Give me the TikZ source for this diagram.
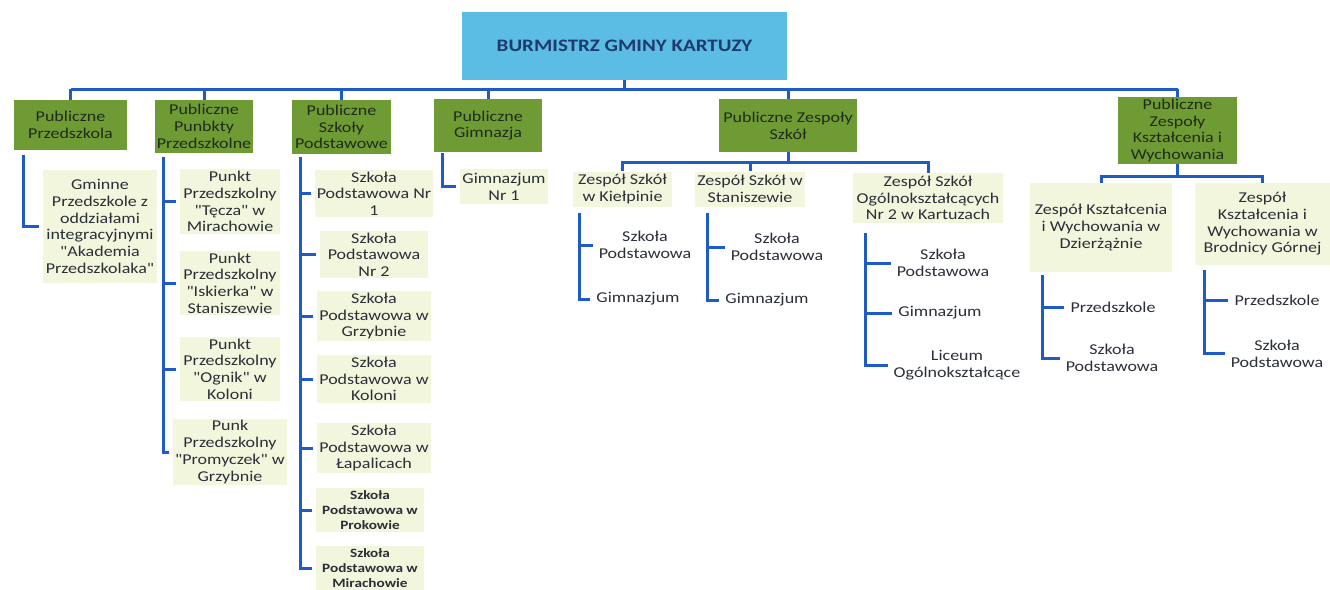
\documentclass[tikz,border=0pt]{standalone}
\usepackage{fontspec}
\newfontfamily\cf{Carlito}[FakeStretch=1.2]
\definecolor{lineblue}{HTML}{1F5BC6}
\definecolor{titleblue}{HTML}{5BBCE4}
\definecolor{titletext}{HTML}{1F3A6E}
\definecolor{headgreen}{HTML}{6F9B35}
\definecolor{headtext}{HTML}{1F2B1A}
\definecolor{itemfill}{HTML}{F2F6DD}
\definecolor{itemtext}{HTML}{2A2F38}
\begin{document}
\begin{tikzpicture}[x=1pt,y=-1pt,
  conn/.style={draw=lineblue,line width=3pt},
  tick/.style={conn,shorten >=4pt},
  titlebox/.style={fill=titleblue,text=titletext,font=\cf\fontsize{17.5}{20}\selectfont\bfseries,minimum width=325pt,minimum height=68pt},
  head/.style={fill=headgreen,text=headtext,font=\cf\fontsize{15}{16.7}\selectfont,align=center,inner sep=2pt},
  item/.style={fill=itemfill,text=itemtext,font=\cf\fontsize{15}{16.7}\selectfont,align=center,inner sep=2pt},
  itemb/.style={item,font=\cf\fontsize{12.7}{15}\selectfont\bfseries},
  sub/.style={text=itemtext,font=\cf\fontsize{15}{16.7}\selectfont,align=center,inner sep=2pt},
]
\fill[white] (0,0) rectangle (1330,589);
\useasboundingbox (0,0) rectangle (1330,589);

\node[titlebox] (top) at (624.5,46) {BURMISTRZ GMINY KARTUZY};

\node[head,minimum width=113pt,minimum height=50pt] (h1) at (70.5,125) {Publiczne\\Przedszkola};
\node[head,minimum width=96pt,minimum height=53pt] (h2) at (204,126.5) {Publiczne\\Punbkty\\Przedszkolne};
\node[head,minimum width=99pt,minimum height=54pt] (h3) at (341.5,127) {Publiczne\\Szkoły\\Podstawowe};
\node[head,minimum width=108pt,minimum height=53pt] (h4) at (488,125.5) {Publiczne\\Gimnazja};
\node[head,minimum width=138pt,minimum height=53pt] (h5) at (788,125.5) {Publiczne Zespoły\\Szkół};
\node[head,minimum width=119pt,minimum height=65pt] (h6) at (1177.5,130.5) {Publiczne\\Zespoły\\Kształcenia i\\Wychowania};

\coordinate (bus) at (0,89);
\draw[conn] (h1.north |- bus) -- (h6.north |- bus);
\draw[conn] (top.south) -- (top.south |- bus);
\foreach \n in {h1,h2,h3,h4,h5,h6} \draw[conn] (\n.north |- bus) -- (\n.north);

% column 1
\node[item,minimum width=114pt,minimum height=113pt] (a1) at (100,226.5) {Gminne\\Przedszkole z\\oddziałami\\integracyjnymi\\"Akademia\\Przedszkolaka"};
\coordinate (v1) at (23,155);
\draw[tick] (v1) |- (a1.west);

% column 2
\node[item,minimum width=100pt,minimum height=64pt] (b1) at (230,201.5) {Punkt\\Przedszkolny\\"Tęcza" w\\Mirachowie};
\node[item,minimum width=100pt,minimum height=64pt] (b2) at (230,283) {Punkt\\Przedszkolny\\"Iskierka" w\\Staniszewie};
\node[item,minimum width=100pt,minimum height=64pt] (b3) at (230,369) {Punkt\\Przedszkolny\\"Ognik" w\\Koloni};
\node[item,minimum width=100pt,minimum height=64pt] (b4) at (230,452) {Punk\\Przedszkolny\\"Promyczek" w\\Grzybnie};
\coordinate (v2) at (163,157);
\foreach \n in {b1,b2,b3,b4} \draw[tick] (v2) |- (\n.west);

% column 3
\node[item,minimum width=108pt,minimum height=44pt] (c1) at (374,193.5) {Szkoła\\Podstawowa Nr\\1};
\node[item,minimum width=108pt,minimum height=44pt] (c2) at (374,254.5) {Szkoła\\Podstawowa\\Nr 2};
\node[item,minimum width=108pt,minimum height=44pt] (c3) at (374,316) {Szkoła\\Podstawowa w\\Grzybnie};
\node[item,minimum width=108pt,minimum height=44pt] (c4) at (374,379) {Szkoła\\Podstawowa w\\Koloni};
\node[item,minimum width=108pt,minimum height=44pt] (c5) at (374,448) {Szkoła\\Podstawowa w\\Łapalicach};
\node[itemb,minimum width=108pt,minimum height=44pt] (c6) at (370,510) {Szkoła\\Podstawowa w\\Prokowie};
\node[itemb,minimum width=108pt,minimum height=44pt] (c7) at (370,568) {Szkoła\\Podstawowa w\\Mirachowie};
\coordinate (v3) at (300,157);
\foreach \n in {c1,c2,c3,c4,c5,c6,c7} \draw[tick] (v3) |- (\n.west);

% column 4
\node[item,minimum width=88pt,minimum height=35pt] (d1) at (504,186.5) {Gimnazjum\\Nr 1};
\coordinate (v4) at (442,153);
\draw[tick] (v4) |- (d1.west);

% column 5
\node[item,minimum width=99pt,minimum height=35pt] (z1) at (622.5,189) {Zespół Szkół\\w Kiełpinie};
\node[item,minimum width=108pt,minimum height=35pt] (z2) at (750,189) {Zespół Szkół w\\Staniszewie};
\node[item,minimum width=150pt,minimum height=50pt] (z3) at (928,198) {Zespół Szkół\\Ogólnokształcących\\Nr 2 w Kartuzach};
\foreach \n in {z1,z2,z3} \draw[conn] (h5.south) -- ++(0,10) -| (\n.north);

\node[sub] (k1) at (645,245) {Szkoła\\Podstawowa};
\node[sub] (k2) at (638,299) {Gimnazjum};
\coordinate (v51) at (579,213);
\foreach \n in {k1,k2} \draw[tick] (v51) |- (\n.west);

\node[sub] (s1) at (777,247) {Szkoła\\Podstawowa};
\node[sub] (s2) at (767,300) {Gimnazjum};
\coordinate (v52) at (707,213);
\foreach \n in {s1,s2} \draw[tick] (v52) |- (\n.west);

\node[sub] (o1) at (943,263) {Szkoła\\Podstawowa};
\node[sub] (o2) at (940,313) {Gimnazjum};
\node[sub] (o3) at (957,365) {Liceum\\Ogólnokształcące};
\coordinate (v53) at (865,233);
\foreach \n in {o1,o2,o3} \draw[tick] (v53) |- (\n.west);

% column 6
\node[item,minimum width=142pt,minimum height=89pt] (e1) at (1101,227.5) {Zespół Kształcenia\\i Wychowania w\\Dzierżążnie};
\node[item,minimum width=135pt,minimum height=82pt] (e2) at (1262.5,224) {Zespół\\Kształcenia i\\Wychowania w\\Brodnicy Górnej};
\foreach \n in {e1,e2} \draw[conn] (h6.south) -- ++(0,12) -| (\n.north);

\node[sub] (p1) at (1113,307) {Przedszkole};
\node[sub] (p2) at (1112,358) {Szkoła\\Podstawowa};
\coordinate (v61) at (1042,275);
\foreach \n in {p1,p2} \draw[tick] (v61) |- (\n.west);

\node[sub] (r1) at (1277,300) {Przedszkole};
\node[sub] (r2) at (1277,353.5) {Szkoła\\Podstawowa};
\coordinate (v62) at (1204,270);
\foreach \n in {r1,r2} \draw[tick] (v62) |- (\n.west);
\end{tikzpicture}
\end{document}
